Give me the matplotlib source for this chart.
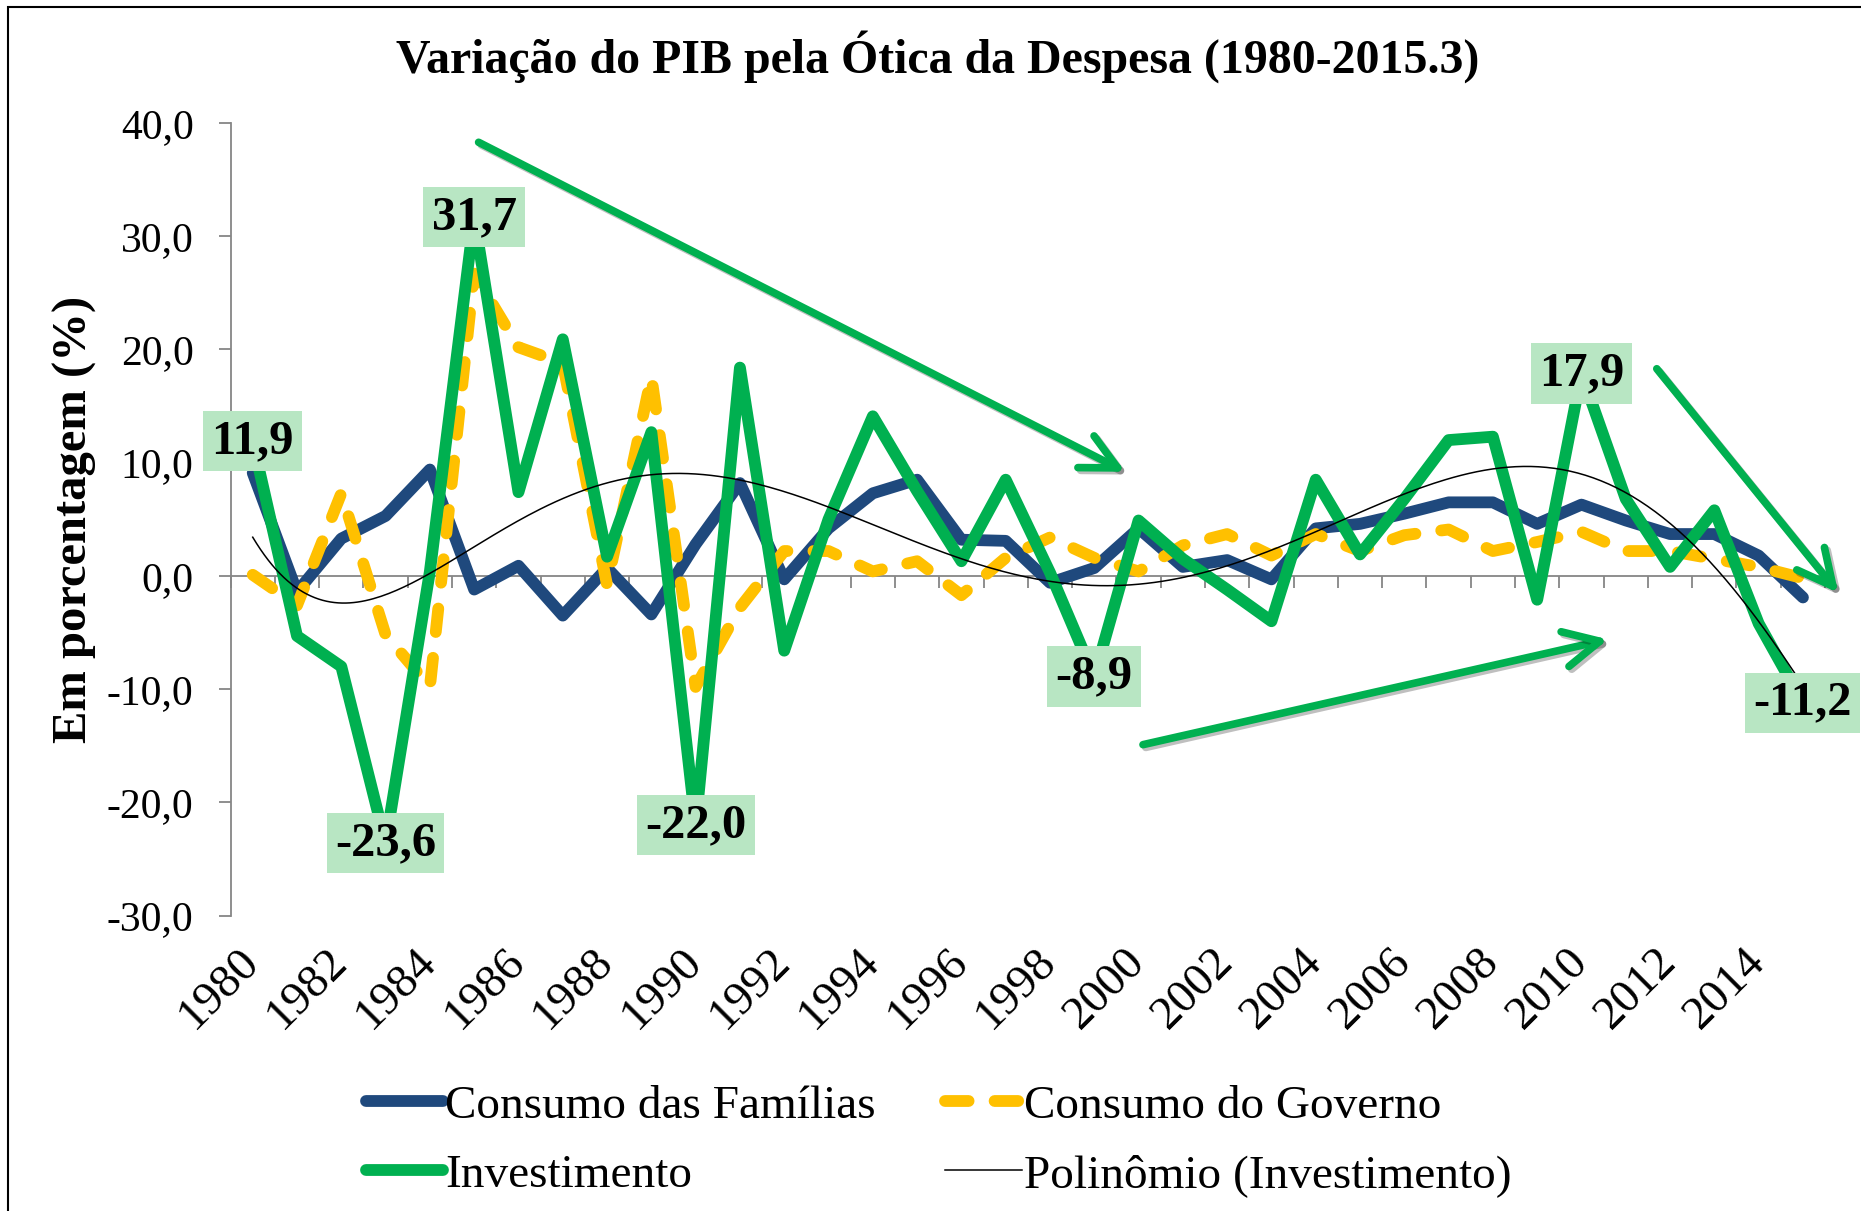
import numpy as np
import matplotlib.pyplot as plt
from matplotlib.patches import Rectangle
import matplotlib.patheffects as pe

# series (annual % change)
years = list(range(1980, 2016))
familias = [9.1, -1.4, 3.3, 5.3, 9.4, -1.2, 0.9, -3.5, 0.7, -3.4,
            2.8, 8.2, -0.3, 4.2, 7.3, 8.5, 3.2, 3.1, -0.6, 0.7,
            4.2, 0.8, 1.4, -0.3, 4.2, 4.6, 5.5, 6.5, 6.5, 4.6,
            6.3, 4.9, 3.7, 3.7, 1.8, -1.9]
governo = [0.1, -2.6, 7.3, -5.2, -9.8, 26.7, 20.2, 18.8, -0.8, 17.6,
           -9.8, -2.8, 2.2, 2.2, 0.4, 1.3, -1.7, 1.6, 3.4, 1.6,
           0.4, 2.7, 3.7, 1.8, 3.7, 2.2, 3.6, 4.1, 2.2, 3.0,
           3.9, 2.2, 2.2, 1.5, 0.8, -0.2]
investimento = [11.9, -5.3, -8.0, -23.6, 0.4, 31.7, 7.4, 20.9, 1.7, 12.7,
                -22.0, 18.4, -6.6, 5.0, 14.1, 7.5, 1.3, 8.5, 0.3, -8.9,
                4.9, 1.5, -1.2, -4.0, 8.5, 1.9, 6.8, 12.0, 12.3, -2.1,
                17.9, 6.8, 0.8, 5.8, -4.2, -11.2]
anos_rotulo = [1980, 1983, 1985, 1990, 1999, 2010, 2015]
yticks = [-30, -20, -10, 0, 10, 20, 30, 40]
xticks = list(range(1980, 2016, 2))

# green trend arrows (start, end) in data units
setas = [((1985.1, 38.3), (1999.7, 9.2)),
         ((2000.1, -14.9), (2010.6, -5.6)),
         ((2011.7, 18.3), (2015.8, -1.5))]

azul = '#1f497d'
amarelo = '#ffc000'
verde = '#00b050'
plt.rcParams['font.family'] = 'Liberation Serif'

fig = plt.figure(figsize=(18.61, 12.11), dpi=100)
ax = fig.add_axes([0.1239, 0.2439, 0.8568, 0.6545])

ax.plot(years, familias, color=azul, lw=8.5, solid_capstyle='round',
        solid_joinstyle='round', label='Consumo das Famílias', zorder=3)
ax.plot(years, governo, color=amarelo, lw=8.5, dashes=(2.0, 2.2),
        dash_capstyle='round', dash_joinstyle='round',
        label='Consumo do Governo', zorder=4)
ax.plot(years, investimento, color=verde, lw=8.5, solid_capstyle='round',
        solid_joinstyle='round', label='Investimento', zorder=5)

# polynomial trendline (6th order, like Excel)
xi = np.arange(1, len(years) + 1)
coef = np.polyfit(xi, investimento, 6)
xs = np.linspace(1, len(years), 400)
ax.plot(xs + years[0] - 1, np.polyval(coef, xs), color='black', lw=1.1,
        label='Polinômio (Investimento)', zorder=6)

# data labels
for ano in anos_rotulo:
    v = investimento[years.index(ano)]
    ax.text(ano, v, f'{v:.1f}'.replace('.', ','), ha='center', va='center',
            fontsize=35, fontweight='bold', zorder=8, clip_on=False,
            bbox=dict(boxstyle='square,pad=0.17', fc='#b8e6c3', ec='none'))

for (x0, y0), (x1, y1) in setas:
    ax.annotate('', xy=(x1, y1), xytext=(x0, y0), annotation_clip=False,
                arrowprops=dict(arrowstyle='->,head_length=0.8,head_width=0.4',
                                mutation_scale=32, lw=5.5, color=verde,
                                shrinkA=0, shrinkB=0,
                                path_effects=[pe.SimpleLineShadow(offset=(2, -2), alpha=0.25),
                                              pe.Normal()]),
                zorder=7)

ax.set_xlim(1979.5, 2015.5)
ax.set_ylim(-30, 40)

for s in ['top', 'right']:
    ax.spines[s].set_visible(False)
ax.spines['bottom'].set_position(('data', 0))
for s in ['bottom', 'left']:
    ax.spines[s].set_color('#868686')
    ax.spines[s].set_linewidth(1.3)
ax.tick_params(axis='y', length=8.6, width=1.3, color='#868686', pad=18,
               labelsize=30)
ax.tick_params(axis='x', which='major', length=0, pad=273, labelsize=34)
ax.tick_params(axis='x', which='minor', length=8.6, width=1.3,
               color='#868686')

ax.set_yticks(yticks)
ax.set_yticklabels([f'{v:.1f}'.replace('.', ',') for v in yticks])
ax.set_xticks(xticks)
ax.set_xticklabels([str(a) for a in xticks])
ax.set_xticks(np.arange(1979.5, 2016, 1), minor=True)
for t in ax.get_xticklabels():
    t.set_rotation(45)
    t.set_ha('right')
    t.set_va('center')
    t.set_rotation_mode('anchor')

ax.set_ylabel('Em porcentagem (%)', fontsize=35, fontweight='bold')
ax.yaxis.set_label_coords(-0.084, 0.5)

fig.text(0.504, 0.953, 'Variação do PIB pela Ótica da Despesa (1980-2015.3)',
         ha='center', va='center', fontsize=34.5, fontweight='bold')

h, l = ax.get_legend_handles_labels()
ordem = [0, 2, 1, 3]
fig.legend([h[i] for i in ordem], [l[i] for i in ordem], ncol=2,
           loc='center left', bbox_to_anchor=(0.1966, 0.058), frameon=False,
           fontsize=34, handlelength=1.63, handletextpad=0.05,
           columnspacing=1.46, borderpad=0, borderaxespad=0, labelspacing=0.54)

fig.patches.append(Rectangle((0.0043, -0.05), 1.2, 0.9942 + 0.05,
                             transform=fig.transFigure, fill=False,
                             ec='black', lw=1.5))

fig.savefig('out.png', dpi=100)
